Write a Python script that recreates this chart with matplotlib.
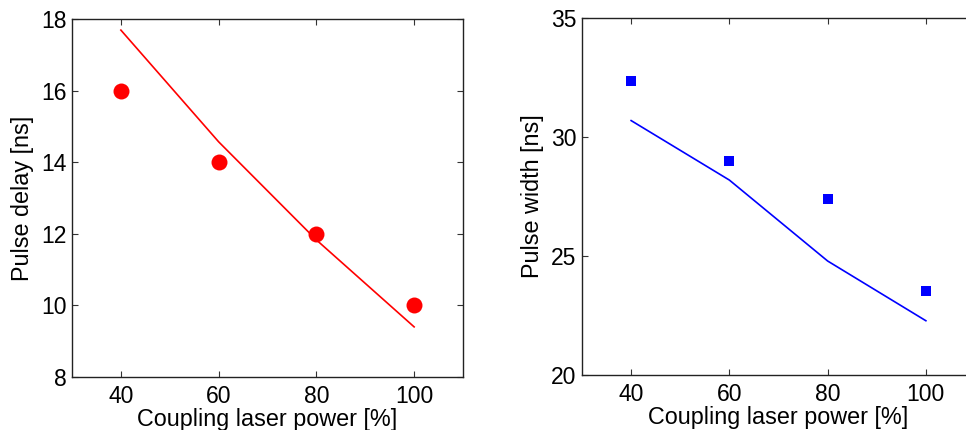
import matplotlib
matplotlib.use("Agg")
import matplotlib.pyplot as plt

plt.rcParams['font.family'] = ['Liberation Sans', 'DejaVu Sans']

power = [40, 60, 80, 100]
delay_meas = [16.0, 14.0, 12.0, 10.0]
delay_fit = [17.69, 14.57, 11.83, 9.40]
width_meas = [32.37, 28.99, 27.40, 23.52]
width_fit = [30.69, 28.19, 24.79, 22.28]

xticks = [40, 60, 80, 100]
delay_ticks = [8, 10, 12, 14, 16, 18]
width_ticks = [20, 25, 30, 35]

W, H = 966, 430
fig = plt.figure(figsize=(W / 100, H / 100), dpi=100)

ax1 = fig.add_axes([72 / W, 1 - 377 / H, 391 / W, 358 / H])
ax2 = fig.add_axes([582 / W, 1 - 375 / H, 393 / W, 357 / H])

def style(ax):
    ax.set_xlim(30, 110)
    ax.set_xticks(xticks)
    ax.tick_params(direction='in', length=4, width=0.8, top=True, right=True,
                   labelsize=16.5, color='#333333')
    ax.tick_params(axis='x', pad=6)
    ax.tick_params(axis='y', pad=4)
    for s in ax.spines.values():
        s.set_linewidth(1.0)
        s.set_color('#222222')
    ax.set_xlabel('Coupling laser power [%]', fontsize=16.8, labelpad=0)

ax1.plot(power, delay_fit, color='red', lw=1.2)
ax1.plot(power, delay_meas, 'o', color='red', markersize=11.5, markeredgewidth=0)
ax1.set_ylim(8, 18)
ax1.set_yticks(delay_ticks)
style(ax1)
ax1.set_ylabel('Pulse delay [ns]', fontsize=16.8, labelpad=5)

ax2.plot(power, width_fit, color='blue', lw=1.2)
ax2.plot(power, width_meas, 's', color='blue', markersize=7, markeredgewidth=0)
ax2.set_ylim(20, 35)
ax2.set_yticks(width_ticks)
style(ax2)
ax2.set_ylabel('Pulse width [ns]', fontsize=16.8, labelpad=5)

fig.savefig('out.png', dpi=100)
